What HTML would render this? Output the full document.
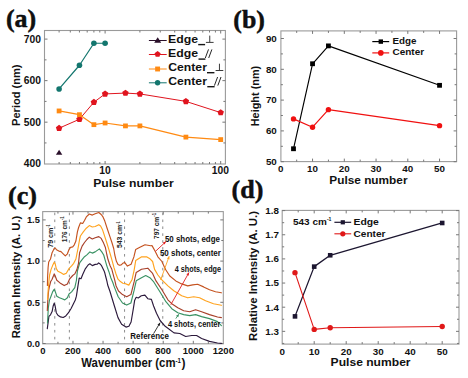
<!DOCTYPE html>
<html><head><meta charset="utf-8"><style>
html,body{margin:0;padding:0;background:#fff;}
svg{display:block;}
</style></head><body>
<svg width="468" height="378" viewBox="0 0 468 378">
<rect width="468" height="378" fill="#fff"/>
<rect x="44.50" y="30.50" width="180.90" height="133.50" fill="none" stroke="#9a9a9a" stroke-width="1.1"/>
<line x1="44.50" y1="39.10" x2="47.50" y2="39.10" stroke="#777" stroke-width="1" />
<line x1="225.40" y1="39.10" x2="222.40" y2="39.10" stroke="#777" stroke-width="1" />
<line x1="44.50" y1="59.87" x2="46.50" y2="59.87" stroke="#777" stroke-width="1" />
<line x1="225.40" y1="59.87" x2="223.40" y2="59.87" stroke="#777" stroke-width="1" />
<line x1="44.50" y1="80.63" x2="47.50" y2="80.63" stroke="#777" stroke-width="1" />
<line x1="225.40" y1="80.63" x2="222.40" y2="80.63" stroke="#777" stroke-width="1" />
<line x1="44.50" y1="101.40" x2="46.50" y2="101.40" stroke="#777" stroke-width="1" />
<line x1="225.40" y1="101.40" x2="223.40" y2="101.40" stroke="#777" stroke-width="1" />
<line x1="44.50" y1="122.16" x2="47.50" y2="122.16" stroke="#777" stroke-width="1" />
<line x1="225.40" y1="122.16" x2="222.40" y2="122.16" stroke="#777" stroke-width="1" />
<line x1="44.50" y1="142.93" x2="46.50" y2="142.93" stroke="#777" stroke-width="1" />
<line x1="225.40" y1="142.93" x2="223.40" y2="142.93" stroke="#777" stroke-width="1" />
<line x1="59.10" y1="164.00" x2="59.10" y2="162.00" stroke="#777" stroke-width="1" />
<line x1="59.10" y1="30.50" x2="59.10" y2="32.50" stroke="#777" stroke-width="1" />
<line x1="70.30" y1="164.00" x2="70.30" y2="162.00" stroke="#777" stroke-width="1" />
<line x1="70.30" y1="30.50" x2="70.30" y2="32.50" stroke="#777" stroke-width="1" />
<line x1="79.45" y1="164.00" x2="79.45" y2="162.00" stroke="#777" stroke-width="1" />
<line x1="79.45" y1="30.50" x2="79.45" y2="32.50" stroke="#777" stroke-width="1" />
<line x1="87.19" y1="164.00" x2="87.19" y2="162.00" stroke="#777" stroke-width="1" />
<line x1="87.19" y1="30.50" x2="87.19" y2="32.50" stroke="#777" stroke-width="1" />
<line x1="93.90" y1="164.00" x2="93.90" y2="162.00" stroke="#777" stroke-width="1" />
<line x1="93.90" y1="30.50" x2="93.90" y2="32.50" stroke="#777" stroke-width="1" />
<line x1="99.81" y1="164.00" x2="99.81" y2="162.00" stroke="#777" stroke-width="1" />
<line x1="99.81" y1="30.50" x2="99.81" y2="32.50" stroke="#777" stroke-width="1" />
<line x1="105.10" y1="164.00" x2="105.10" y2="161.00" stroke="#777" stroke-width="1" />
<line x1="105.10" y1="30.50" x2="105.10" y2="33.50" stroke="#777" stroke-width="1" />
<line x1="139.90" y1="164.00" x2="139.90" y2="162.00" stroke="#777" stroke-width="1" />
<line x1="139.90" y1="30.50" x2="139.90" y2="32.50" stroke="#777" stroke-width="1" />
<line x1="160.26" y1="164.00" x2="160.26" y2="162.00" stroke="#777" stroke-width="1" />
<line x1="160.26" y1="30.50" x2="160.26" y2="32.50" stroke="#777" stroke-width="1" />
<line x1="174.70" y1="164.00" x2="174.70" y2="162.00" stroke="#777" stroke-width="1" />
<line x1="174.70" y1="30.50" x2="174.70" y2="32.50" stroke="#777" stroke-width="1" />
<line x1="185.90" y1="164.00" x2="185.90" y2="162.00" stroke="#777" stroke-width="1" />
<line x1="185.90" y1="30.50" x2="185.90" y2="32.50" stroke="#777" stroke-width="1" />
<line x1="195.05" y1="164.00" x2="195.05" y2="162.00" stroke="#777" stroke-width="1" />
<line x1="195.05" y1="30.50" x2="195.05" y2="32.50" stroke="#777" stroke-width="1" />
<line x1="202.79" y1="164.00" x2="202.79" y2="162.00" stroke="#777" stroke-width="1" />
<line x1="202.79" y1="30.50" x2="202.79" y2="32.50" stroke="#777" stroke-width="1" />
<line x1="209.50" y1="164.00" x2="209.50" y2="162.00" stroke="#777" stroke-width="1" />
<line x1="209.50" y1="30.50" x2="209.50" y2="32.50" stroke="#777" stroke-width="1" />
<line x1="215.41" y1="164.00" x2="215.41" y2="162.00" stroke="#777" stroke-width="1" />
<line x1="215.41" y1="30.50" x2="215.41" y2="32.50" stroke="#777" stroke-width="1" />
<line x1="220.70" y1="164.00" x2="220.70" y2="161.00" stroke="#777" stroke-width="1" />
<line x1="220.70" y1="30.50" x2="220.70" y2="33.50" stroke="#777" stroke-width="1" />
<text x="41.00" y="42.60" font-size="10.3" font-weight="bold" text-anchor="end" fill="#111" font-family='"Liberation Sans", sans-serif' >700</text>
<text x="41.00" y="84.13" font-size="10.3" font-weight="bold" text-anchor="end" fill="#111" font-family='"Liberation Sans", sans-serif' >600</text>
<text x="41.00" y="125.66" font-size="10.3" font-weight="bold" text-anchor="end" fill="#111" font-family='"Liberation Sans", sans-serif' >500</text>
<text x="41.00" y="167.19" font-size="10.3" font-weight="bold" text-anchor="end" fill="#111" font-family='"Liberation Sans", sans-serif' >400</text>
<text x="105.10" y="173.80" font-size="10.3" font-weight="bold" text-anchor="middle" fill="#111" font-family='"Liberation Sans", sans-serif' >10</text>
<text x="220.30" y="173.80" font-size="10.3" font-weight="bold" text-anchor="middle" fill="#111" font-family='"Liberation Sans", sans-serif' >100</text>
<text x="133.40" y="187.00" font-size="11.4" font-weight="bold" text-anchor="middle" fill="#111" font-family='"Liberation Sans", sans-serif' textLength="80.5" lengthAdjust="spacingAndGlyphs" >Pulse number</text>
<text x="19.80" y="95.20" font-size="11.8" font-weight="bold" text-anchor="middle" fill="#111" font-family='"Liberation Sans", sans-serif' textLength="61.5" lengthAdjust="spacingAndGlyphs" transform="rotate(-90 19.80 95.20)" >Period (nm)</text>
<polyline points="59.10,128.18 79.45,119.25 93.90,102.23 105.10,93.92 125.46,93.09 139.90,93.92 185.90,101.40 220.70,112.61" fill="none" stroke="#e0141e" stroke-width="1" stroke-linejoin="round" stroke-linecap="round" />
<polygon points="59.10,124.78 62.33,127.13 61.10,130.93 57.10,130.93 55.86,127.13" fill="#e0141e"/>
<polygon points="79.45,115.85 82.69,118.20 81.45,122.00 77.46,122.00 76.22,118.20" fill="#e0141e"/>
<polygon points="93.90,98.83 97.13,101.17 95.90,104.98 91.90,104.98 90.66,101.17" fill="#e0141e"/>
<polygon points="105.10,90.52 108.33,92.87 107.10,96.67 103.10,96.67 101.87,92.87" fill="#e0141e"/>
<polygon points="125.46,89.69 128.69,92.04 127.45,95.84 123.46,95.84 122.22,92.04" fill="#e0141e"/>
<polygon points="139.90,90.52 143.13,92.87 141.90,96.67 137.90,96.67 136.67,92.87" fill="#e0141e"/>
<polygon points="185.90,98.00 189.13,100.34 187.90,104.15 183.90,104.15 182.67,100.34" fill="#e0141e"/>
<polygon points="220.70,109.21 223.93,111.56 222.70,115.36 218.70,115.36 217.47,111.56" fill="#e0141e"/>
<polyline points="59.10,110.95 79.45,114.68 93.90,124.65 105.10,122.99 125.46,125.90 139.90,125.90 185.90,137.11 220.70,139.60" fill="none" stroke="#ff8a12" stroke-width="1.2" stroke-linejoin="round" stroke-linecap="round" />
<rect x="56.70" y="108.55" width="4.8" height="4.8" fill="#ff8a12"/>
<rect x="77.05" y="112.28" width="4.8" height="4.8" fill="#ff8a12"/>
<rect x="91.50" y="122.25" width="4.8" height="4.8" fill="#ff8a12"/>
<rect x="102.70" y="120.59" width="4.8" height="4.8" fill="#ff8a12"/>
<rect x="123.06" y="123.50" width="4.8" height="4.8" fill="#ff8a12"/>
<rect x="137.50" y="123.50" width="4.8" height="4.8" fill="#ff8a12"/>
<rect x="183.50" y="134.71" width="4.8" height="4.8" fill="#ff8a12"/>
<rect x="218.30" y="137.20" width="4.8" height="4.8" fill="#ff8a12"/>
<polyline points="59.10,88.94 79.45,65.26 93.90,43.25 105.10,43.25" fill="none" stroke="#13766e" stroke-width="1.2" stroke-linejoin="round" stroke-linecap="round" />
<circle cx="59.10" cy="88.94" r="2.8" fill="#13766e"/>
<circle cx="79.45" cy="65.26" r="2.8" fill="#13766e"/>
<circle cx="93.90" cy="43.25" r="2.8" fill="#13766e"/>
<circle cx="105.10" cy="43.25" r="2.8" fill="#13766e"/>
<polygon points="55.90,154.83 62.30,154.83 59.10,149.71" fill="#2a0f2a"/>
<line x1="148.90" y1="40.50" x2="166.70" y2="40.50" stroke="#2a0f2a" stroke-width="1" />
<polygon points="154.20,42.80 161.20,42.80 157.70,37.20" fill="#2a0f2a"/>
<line x1="148.90" y1="54.50" x2="166.70" y2="54.50" stroke="#e0141e" stroke-width="1" />
<polygon points="157.60,51.00 160.64,53.21 159.48,56.79 155.72,56.79 154.56,53.21" fill="#e0141e"/>
<line x1="148.90" y1="69.00" x2="166.70" y2="69.00" stroke="#ff8a12" stroke-width="1" />
<rect x="155.15" y="66.55" width="4.9" height="4.9" fill="#ff8a12"/>
<line x1="148.90" y1="82.80" x2="166.70" y2="82.80" stroke="#13766e" stroke-width="1" />
<circle cx="157.60" cy="82.80" r="2.7" fill="#13766e"/>
<text x="168.10" y="42.90" font-size="10.2" font-weight="bold" text-anchor="start" fill="#111" font-family='"Liberation Sans", sans-serif' textLength="30.0" lengthAdjust="spacingAndGlyphs" >Edge</text>
<rect x="198.20" y="43.90" width="6.90" height="1.4" fill="#151515"/>
<line x1="205.90" y1="42.40" x2="213.60" y2="42.40" stroke="#3a3a3a" stroke-width="1.0" />
<line x1="209.75" y1="35.60" x2="209.75" y2="42.40" stroke="#3a3a3a" stroke-width="1.0" />
<text x="168.10" y="57.40" font-size="10.2" font-weight="bold" text-anchor="start" fill="#111" font-family='"Liberation Sans", sans-serif' textLength="30.0" lengthAdjust="spacingAndGlyphs" >Edge</text>
<rect x="198.50" y="58.40" width="6.90" height="1.4" fill="#151515"/>
<line x1="208.50" y1="49.40" x2="205.30" y2="58.00" stroke="#1a1a1a" stroke-width="0.95" />
<line x1="211.90" y1="49.40" x2="208.70" y2="58.00" stroke="#1a1a1a" stroke-width="0.95" />
<text x="168.30" y="71.00" font-size="10.2" font-weight="bold" text-anchor="start" fill="#111" font-family='"Liberation Sans", sans-serif' textLength="38.6" lengthAdjust="spacingAndGlyphs" >Center</text>
<rect x="207.00" y="72.00" width="7.40" height="1.4" fill="#151515"/>
<line x1="215.60" y1="70.50" x2="223.30" y2="70.50" stroke="#3a3a3a" stroke-width="1.0" />
<line x1="219.45" y1="63.70" x2="219.45" y2="70.50" stroke="#3a3a3a" stroke-width="1.0" />
<text x="168.30" y="85.00" font-size="10.2" font-weight="bold" text-anchor="start" fill="#111" font-family='"Liberation Sans", sans-serif' textLength="38.6" lengthAdjust="spacingAndGlyphs" >Center</text>
<rect x="207.30" y="86.00" width="7.30" height="1.4" fill="#151515"/>
<line x1="217.60" y1="77.00" x2="214.40" y2="85.60" stroke="#1a1a1a" stroke-width="0.95" />
<line x1="221.00" y1="77.00" x2="217.80" y2="85.60" stroke="#1a1a1a" stroke-width="0.95" />
<rect x="280.90" y="30.90" width="175.70" height="130.70" fill="none" stroke="#9a9a9a" stroke-width="1.1"/>
<line x1="280.90" y1="161.70" x2="283.90" y2="161.70" stroke="#777" stroke-width="1" />
<line x1="456.60" y1="161.70" x2="453.60" y2="161.70" stroke="#777" stroke-width="1" />
<line x1="280.90" y1="146.30" x2="282.90" y2="146.30" stroke="#777" stroke-width="1" />
<line x1="456.60" y1="146.30" x2="454.60" y2="146.30" stroke="#777" stroke-width="1" />
<line x1="280.90" y1="130.90" x2="283.90" y2="130.90" stroke="#777" stroke-width="1" />
<line x1="456.60" y1="130.90" x2="453.60" y2="130.90" stroke="#777" stroke-width="1" />
<line x1="280.90" y1="115.50" x2="282.90" y2="115.50" stroke="#777" stroke-width="1" />
<line x1="456.60" y1="115.50" x2="454.60" y2="115.50" stroke="#777" stroke-width="1" />
<line x1="280.90" y1="100.10" x2="283.90" y2="100.10" stroke="#777" stroke-width="1" />
<line x1="456.60" y1="100.10" x2="453.60" y2="100.10" stroke="#777" stroke-width="1" />
<line x1="280.90" y1="84.70" x2="282.90" y2="84.70" stroke="#777" stroke-width="1" />
<line x1="456.60" y1="84.70" x2="454.60" y2="84.70" stroke="#777" stroke-width="1" />
<line x1="280.90" y1="69.30" x2="283.90" y2="69.30" stroke="#777" stroke-width="1" />
<line x1="456.60" y1="69.30" x2="453.60" y2="69.30" stroke="#777" stroke-width="1" />
<line x1="280.90" y1="53.90" x2="282.90" y2="53.90" stroke="#777" stroke-width="1" />
<line x1="456.60" y1="53.90" x2="454.60" y2="53.90" stroke="#777" stroke-width="1" />
<line x1="280.90" y1="38.50" x2="283.90" y2="38.50" stroke="#777" stroke-width="1" />
<line x1="456.60" y1="38.50" x2="453.60" y2="38.50" stroke="#777" stroke-width="1" />
<line x1="296.68" y1="161.60" x2="296.68" y2="159.60" stroke="#777" stroke-width="1" />
<line x1="296.68" y1="30.90" x2="296.68" y2="32.90" stroke="#777" stroke-width="1" />
<line x1="312.55" y1="161.60" x2="312.55" y2="158.60" stroke="#777" stroke-width="1" />
<line x1="312.55" y1="30.90" x2="312.55" y2="33.90" stroke="#777" stroke-width="1" />
<line x1="328.43" y1="161.60" x2="328.43" y2="159.60" stroke="#777" stroke-width="1" />
<line x1="328.43" y1="30.90" x2="328.43" y2="32.90" stroke="#777" stroke-width="1" />
<line x1="344.30" y1="161.60" x2="344.30" y2="158.60" stroke="#777" stroke-width="1" />
<line x1="344.30" y1="30.90" x2="344.30" y2="33.90" stroke="#777" stroke-width="1" />
<line x1="360.18" y1="161.60" x2="360.18" y2="159.60" stroke="#777" stroke-width="1" />
<line x1="360.18" y1="30.90" x2="360.18" y2="32.90" stroke="#777" stroke-width="1" />
<line x1="376.05" y1="161.60" x2="376.05" y2="158.60" stroke="#777" stroke-width="1" />
<line x1="376.05" y1="30.90" x2="376.05" y2="33.90" stroke="#777" stroke-width="1" />
<line x1="391.93" y1="161.60" x2="391.93" y2="159.60" stroke="#777" stroke-width="1" />
<line x1="391.93" y1="30.90" x2="391.93" y2="32.90" stroke="#777" stroke-width="1" />
<line x1="407.80" y1="161.60" x2="407.80" y2="158.60" stroke="#777" stroke-width="1" />
<line x1="407.80" y1="30.90" x2="407.80" y2="33.90" stroke="#777" stroke-width="1" />
<line x1="423.68" y1="161.60" x2="423.68" y2="159.60" stroke="#777" stroke-width="1" />
<line x1="423.68" y1="30.90" x2="423.68" y2="32.90" stroke="#777" stroke-width="1" />
<line x1="439.55" y1="161.60" x2="439.55" y2="158.60" stroke="#777" stroke-width="1" />
<line x1="439.55" y1="30.90" x2="439.55" y2="33.90" stroke="#777" stroke-width="1" />
<text x="276.80" y="41.70" font-size="9.8" font-weight="bold" text-anchor="end" fill="#111" font-family='"Liberation Sans", sans-serif' >90</text>
<text x="276.80" y="72.50" font-size="9.8" font-weight="bold" text-anchor="end" fill="#111" font-family='"Liberation Sans", sans-serif' >80</text>
<text x="276.80" y="103.30" font-size="9.8" font-weight="bold" text-anchor="end" fill="#111" font-family='"Liberation Sans", sans-serif' >70</text>
<text x="276.80" y="134.10" font-size="9.8" font-weight="bold" text-anchor="end" fill="#111" font-family='"Liberation Sans", sans-serif' >60</text>
<text x="276.80" y="164.90" font-size="9.8" font-weight="bold" text-anchor="end" fill="#111" font-family='"Liberation Sans", sans-serif' >50</text>
<text x="280.80" y="171.80" font-size="9.8" font-weight="bold" text-anchor="middle" fill="#111" font-family='"Liberation Sans", sans-serif' >0</text>
<text x="312.55" y="171.80" font-size="9.8" font-weight="bold" text-anchor="middle" fill="#111" font-family='"Liberation Sans", sans-serif' >10</text>
<text x="344.30" y="171.80" font-size="9.8" font-weight="bold" text-anchor="middle" fill="#111" font-family='"Liberation Sans", sans-serif' >20</text>
<text x="376.05" y="171.80" font-size="9.8" font-weight="bold" text-anchor="middle" fill="#111" font-family='"Liberation Sans", sans-serif' >30</text>
<text x="407.80" y="171.80" font-size="9.8" font-weight="bold" text-anchor="middle" fill="#111" font-family='"Liberation Sans", sans-serif' >40</text>
<text x="439.55" y="171.80" font-size="9.8" font-weight="bold" text-anchor="middle" fill="#111" font-family='"Liberation Sans", sans-serif' >50</text>
<text x="368.40" y="183.50" font-size="11.2" font-weight="bold" text-anchor="middle" fill="#111" font-family='"Liberation Sans", sans-serif' textLength="78.2" lengthAdjust="spacingAndGlyphs" >Pulse number</text>
<text x="258.70" y="96.00" font-size="11.8" font-weight="bold" text-anchor="middle" fill="#111" font-family='"Liberation Sans", sans-serif' textLength="60.5" lengthAdjust="spacingAndGlyphs" transform="rotate(-90 258.70 96.00)" >Height (nm)</text>
<polyline points="293.50,148.76 312.55,63.76 328.43,45.89 439.55,85.32" fill="none" stroke="#000" stroke-width="1.15" stroke-linejoin="round" stroke-linecap="round" />
<rect x="291.10" y="146.36" width="4.8" height="4.8" fill="#000"/>
<rect x="310.15" y="61.36" width="4.8" height="4.8" fill="#000"/>
<rect x="326.03" y="43.49" width="4.8" height="4.8" fill="#000"/>
<rect x="437.15" y="82.92" width="4.8" height="4.8" fill="#000"/>
<polyline points="293.50,118.89 312.55,127.20 328.43,109.65 439.55,125.66" fill="none" stroke="#f01010" stroke-width="1.2" stroke-linejoin="round" stroke-linecap="round" />
<circle cx="293.50" cy="118.89" r="2.7" fill="#f01010"/>
<circle cx="312.55" cy="127.20" r="2.7" fill="#f01010"/>
<circle cx="328.43" cy="109.65" r="2.7" fill="#f01010"/>
<circle cx="439.55" cy="125.66" r="2.7" fill="#f01010"/>
<line x1="372.30" y1="41.60" x2="389.20" y2="41.60" stroke="#000" stroke-width="1.2" />
<rect x="378.60" y="39.40" width="4.4" height="4.4" fill="#000"/>
<line x1="372.30" y1="52.90" x2="389.20" y2="52.90" stroke="#f01010" stroke-width="1.2" />
<circle cx="380.80" cy="52.90" r="2.8" fill="#f01010"/>
<text x="392.40" y="43.80" font-size="9.6" font-weight="bold" text-anchor="start" fill="#111" font-family='"Liberation Sans", sans-serif' textLength="24.0" lengthAdjust="spacingAndGlyphs" >Edge</text>
<text x="392.50" y="55.30" font-size="9.6" font-weight="bold" text-anchor="start" fill="#111" font-family='"Liberation Sans", sans-serif' textLength="31.6" lengthAdjust="spacingAndGlyphs" >Center</text>
<rect x="282.20" y="210.40" width="176.80" height="133.70" fill="none" stroke="#9a9a9a" stroke-width="1.1"/>
<line x1="282.20" y1="343.43" x2="284.20" y2="343.43" stroke="#777" stroke-width="1" />
<line x1="459.00" y1="343.43" x2="457.00" y2="343.43" stroke="#777" stroke-width="1" />
<line x1="282.20" y1="331.35" x2="285.20" y2="331.35" stroke="#777" stroke-width="1" />
<line x1="459.00" y1="331.35" x2="456.00" y2="331.35" stroke="#777" stroke-width="1" />
<line x1="282.20" y1="319.27" x2="284.20" y2="319.27" stroke="#777" stroke-width="1" />
<line x1="459.00" y1="319.27" x2="457.00" y2="319.27" stroke="#777" stroke-width="1" />
<line x1="282.20" y1="307.20" x2="285.20" y2="307.20" stroke="#777" stroke-width="1" />
<line x1="459.00" y1="307.20" x2="456.00" y2="307.20" stroke="#777" stroke-width="1" />
<line x1="282.20" y1="295.12" x2="284.20" y2="295.12" stroke="#777" stroke-width="1" />
<line x1="459.00" y1="295.12" x2="457.00" y2="295.12" stroke="#777" stroke-width="1" />
<line x1="282.20" y1="283.05" x2="285.20" y2="283.05" stroke="#777" stroke-width="1" />
<line x1="459.00" y1="283.05" x2="456.00" y2="283.05" stroke="#777" stroke-width="1" />
<line x1="282.20" y1="270.98" x2="284.20" y2="270.98" stroke="#777" stroke-width="1" />
<line x1="459.00" y1="270.98" x2="457.00" y2="270.98" stroke="#777" stroke-width="1" />
<line x1="282.20" y1="258.90" x2="285.20" y2="258.90" stroke="#777" stroke-width="1" />
<line x1="459.00" y1="258.90" x2="456.00" y2="258.90" stroke="#777" stroke-width="1" />
<line x1="282.20" y1="246.83" x2="284.20" y2="246.83" stroke="#777" stroke-width="1" />
<line x1="459.00" y1="246.83" x2="457.00" y2="246.83" stroke="#777" stroke-width="1" />
<line x1="282.20" y1="234.75" x2="285.20" y2="234.75" stroke="#777" stroke-width="1" />
<line x1="459.00" y1="234.75" x2="456.00" y2="234.75" stroke="#777" stroke-width="1" />
<line x1="282.20" y1="222.68" x2="284.20" y2="222.68" stroke="#777" stroke-width="1" />
<line x1="459.00" y1="222.68" x2="457.00" y2="222.68" stroke="#777" stroke-width="1" />
<line x1="282.20" y1="210.60" x2="285.20" y2="210.60" stroke="#777" stroke-width="1" />
<line x1="459.00" y1="210.60" x2="456.00" y2="210.60" stroke="#777" stroke-width="1" />
<line x1="298.20" y1="344.10" x2="298.20" y2="342.10" stroke="#777" stroke-width="1" />
<line x1="298.20" y1="210.40" x2="298.20" y2="212.40" stroke="#777" stroke-width="1" />
<line x1="314.20" y1="344.10" x2="314.20" y2="341.10" stroke="#777" stroke-width="1" />
<line x1="314.20" y1="210.40" x2="314.20" y2="213.40" stroke="#777" stroke-width="1" />
<line x1="330.20" y1="344.10" x2="330.20" y2="342.10" stroke="#777" stroke-width="1" />
<line x1="330.20" y1="210.40" x2="330.20" y2="212.40" stroke="#777" stroke-width="1" />
<line x1="346.20" y1="344.10" x2="346.20" y2="341.10" stroke="#777" stroke-width="1" />
<line x1="346.20" y1="210.40" x2="346.20" y2="213.40" stroke="#777" stroke-width="1" />
<line x1="362.20" y1="344.10" x2="362.20" y2="342.10" stroke="#777" stroke-width="1" />
<line x1="362.20" y1="210.40" x2="362.20" y2="212.40" stroke="#777" stroke-width="1" />
<line x1="378.20" y1="344.10" x2="378.20" y2="341.10" stroke="#777" stroke-width="1" />
<line x1="378.20" y1="210.40" x2="378.20" y2="213.40" stroke="#777" stroke-width="1" />
<line x1="394.20" y1="344.10" x2="394.20" y2="342.10" stroke="#777" stroke-width="1" />
<line x1="394.20" y1="210.40" x2="394.20" y2="212.40" stroke="#777" stroke-width="1" />
<line x1="410.20" y1="344.10" x2="410.20" y2="341.10" stroke="#777" stroke-width="1" />
<line x1="410.20" y1="210.40" x2="410.20" y2="213.40" stroke="#777" stroke-width="1" />
<line x1="426.20" y1="344.10" x2="426.20" y2="342.10" stroke="#777" stroke-width="1" />
<line x1="426.20" y1="210.40" x2="426.20" y2="212.40" stroke="#777" stroke-width="1" />
<line x1="442.20" y1="344.10" x2="442.20" y2="341.10" stroke="#777" stroke-width="1" />
<line x1="442.20" y1="210.40" x2="442.20" y2="213.40" stroke="#777" stroke-width="1" />
<text x="278.90" y="213.90" font-size="9.8" font-weight="bold" text-anchor="end" fill="#111" font-family='"Liberation Sans", sans-serif' >1.8</text>
<text x="278.90" y="238.05" font-size="9.8" font-weight="bold" text-anchor="end" fill="#111" font-family='"Liberation Sans", sans-serif' >1.7</text>
<text x="278.90" y="262.20" font-size="9.8" font-weight="bold" text-anchor="end" fill="#111" font-family='"Liberation Sans", sans-serif' >1.6</text>
<text x="278.90" y="286.35" font-size="9.8" font-weight="bold" text-anchor="end" fill="#111" font-family='"Liberation Sans", sans-serif' >1.5</text>
<text x="278.90" y="310.50" font-size="9.8" font-weight="bold" text-anchor="end" fill="#111" font-family='"Liberation Sans", sans-serif' >1.4</text>
<text x="278.90" y="334.65" font-size="9.8" font-weight="bold" text-anchor="end" fill="#111" font-family='"Liberation Sans", sans-serif' >1.3</text>
<text x="282.20" y="354.80" font-size="9.8" font-weight="bold" text-anchor="middle" fill="#111" font-family='"Liberation Sans", sans-serif' >0</text>
<text x="314.20" y="354.80" font-size="9.8" font-weight="bold" text-anchor="middle" fill="#111" font-family='"Liberation Sans", sans-serif' >10</text>
<text x="346.20" y="354.80" font-size="9.8" font-weight="bold" text-anchor="middle" fill="#111" font-family='"Liberation Sans", sans-serif' >20</text>
<text x="378.20" y="354.80" font-size="9.8" font-weight="bold" text-anchor="middle" fill="#111" font-family='"Liberation Sans", sans-serif' >30</text>
<text x="410.20" y="354.80" font-size="9.8" font-weight="bold" text-anchor="middle" fill="#111" font-family='"Liberation Sans", sans-serif' >40</text>
<text x="442.20" y="354.80" font-size="9.8" font-weight="bold" text-anchor="middle" fill="#111" font-family='"Liberation Sans", sans-serif' >50</text>
<text x="370.60" y="365.90" font-size="11.3" font-weight="bold" text-anchor="middle" fill="#111" font-family='"Liberation Sans", sans-serif' textLength="80" lengthAdjust="spacingAndGlyphs" >Pulse number</text>
<text x="256.70" y="276.00" font-size="11.6" font-weight="bold" text-anchor="middle" fill="#111" font-family='"Liberation Sans", sans-serif' textLength="130" lengthAdjust="spacingAndGlyphs" transform="rotate(-90 256.70 276.00)" >Relative Intensity (A. U.)</text>
<polyline points="295.00,316.38 314.20,266.63 330.20,255.28 442.20,222.99" fill="none" stroke="#1c1630" stroke-width="1.3" stroke-linejoin="round" stroke-linecap="round" />
<rect x="292.70" y="314.08" width="4.6" height="4.6" fill="#1c1630"/>
<rect x="311.90" y="264.33" width="4.6" height="4.6" fill="#1c1630"/>
<rect x="327.90" y="252.98" width="4.6" height="4.6" fill="#1c1630"/>
<rect x="439.90" y="220.69" width="4.6" height="4.6" fill="#1c1630"/>
<polyline points="295.00,272.67 314.20,329.42 330.20,327.73 442.20,326.52" fill="none" stroke="#e01818" stroke-width="1.1" stroke-linejoin="round" stroke-linecap="round" />
<circle cx="295.00" cy="272.67" r="2.7" fill="#e01818"/>
<circle cx="314.20" cy="329.42" r="2.7" fill="#e01818"/>
<circle cx="330.20" cy="327.73" r="2.7" fill="#e01818"/>
<circle cx="442.20" cy="326.52" r="2.7" fill="#e01818"/>
<line x1="334.40" y1="222.30" x2="351.20" y2="222.30" stroke="#1c1630" stroke-width="1.2" />
<rect x="340.70" y="220.20" width="4.2" height="4.2" fill="#1c1630"/>
<line x1="334.40" y1="233.80" x2="351.20" y2="233.80" stroke="#e01818" stroke-width="1.1" />
<circle cx="342.80" cy="233.80" r="2.6" fill="#e01818"/>
<text x="293.00" y="225.20" font-size="8.2" font-weight="bold" text-anchor="start" fill="#111" font-family='"Liberation Sans", sans-serif' textLength="33.8" lengthAdjust="spacingAndGlyphs" >543 cm</text>
<text x="326.90" y="221.40" font-size="5.2" font-weight="bold" text-anchor="start" fill="#111" font-family='"Liberation Sans", sans-serif' textLength="4.6" lengthAdjust="spacingAndGlyphs" >-1</text>
<text x="353.50" y="224.90" font-size="9.3" font-weight="bold" text-anchor="start" fill="#111" font-family='"Liberation Sans", sans-serif' textLength="25.4" lengthAdjust="spacingAndGlyphs" >Edge</text>
<text x="353.60" y="237.10" font-size="9.3" font-weight="bold" text-anchor="start" fill="#111" font-family='"Liberation Sans", sans-serif' textLength="31.9" lengthAdjust="spacingAndGlyphs" >Center</text>
<rect x="42.70" y="211.60" width="180.60" height="132.20" fill="none" stroke="#9a9a9a" stroke-width="1.1"/>
<line x1="42.70" y1="343.50" x2="45.70" y2="343.50" stroke="#777" stroke-width="1" />
<line x1="223.30" y1="343.50" x2="220.30" y2="343.50" stroke="#777" stroke-width="1" />
<line x1="42.70" y1="322.90" x2="44.70" y2="322.90" stroke="#777" stroke-width="1" />
<line x1="223.30" y1="322.90" x2="221.30" y2="322.90" stroke="#777" stroke-width="1" />
<line x1="42.70" y1="302.30" x2="45.70" y2="302.30" stroke="#777" stroke-width="1" />
<line x1="223.30" y1="302.30" x2="220.30" y2="302.30" stroke="#777" stroke-width="1" />
<line x1="42.70" y1="281.70" x2="44.70" y2="281.70" stroke="#777" stroke-width="1" />
<line x1="223.30" y1="281.70" x2="221.30" y2="281.70" stroke="#777" stroke-width="1" />
<line x1="42.70" y1="261.10" x2="45.70" y2="261.10" stroke="#777" stroke-width="1" />
<line x1="223.30" y1="261.10" x2="220.30" y2="261.10" stroke="#777" stroke-width="1" />
<line x1="42.70" y1="240.50" x2="44.70" y2="240.50" stroke="#777" stroke-width="1" />
<line x1="223.30" y1="240.50" x2="221.30" y2="240.50" stroke="#777" stroke-width="1" />
<line x1="42.70" y1="219.90" x2="45.70" y2="219.90" stroke="#777" stroke-width="1" />
<line x1="223.30" y1="219.90" x2="220.30" y2="219.90" stroke="#777" stroke-width="1" />
<line x1="57.94" y1="343.80" x2="57.94" y2="341.80" stroke="#777" stroke-width="1" />
<line x1="57.94" y1="211.60" x2="57.94" y2="213.60" stroke="#777" stroke-width="1" />
<line x1="72.98" y1="343.80" x2="72.98" y2="340.80" stroke="#777" stroke-width="1" />
<line x1="72.98" y1="211.60" x2="72.98" y2="214.60" stroke="#777" stroke-width="1" />
<line x1="88.02" y1="343.80" x2="88.02" y2="341.80" stroke="#777" stroke-width="1" />
<line x1="88.02" y1="211.60" x2="88.02" y2="213.60" stroke="#777" stroke-width="1" />
<line x1="103.06" y1="343.80" x2="103.06" y2="340.80" stroke="#777" stroke-width="1" />
<line x1="103.06" y1="211.60" x2="103.06" y2="214.60" stroke="#777" stroke-width="1" />
<line x1="118.10" y1="343.80" x2="118.10" y2="341.80" stroke="#777" stroke-width="1" />
<line x1="118.10" y1="211.60" x2="118.10" y2="213.60" stroke="#777" stroke-width="1" />
<line x1="133.14" y1="343.80" x2="133.14" y2="340.80" stroke="#777" stroke-width="1" />
<line x1="133.14" y1="211.60" x2="133.14" y2="214.60" stroke="#777" stroke-width="1" />
<line x1="148.18" y1="343.80" x2="148.18" y2="341.80" stroke="#777" stroke-width="1" />
<line x1="148.18" y1="211.60" x2="148.18" y2="213.60" stroke="#777" stroke-width="1" />
<line x1="163.22" y1="343.80" x2="163.22" y2="340.80" stroke="#777" stroke-width="1" />
<line x1="163.22" y1="211.60" x2="163.22" y2="214.60" stroke="#777" stroke-width="1" />
<line x1="178.26" y1="343.80" x2="178.26" y2="341.80" stroke="#777" stroke-width="1" />
<line x1="178.26" y1="211.60" x2="178.26" y2="213.60" stroke="#777" stroke-width="1" />
<line x1="193.30" y1="343.80" x2="193.30" y2="340.80" stroke="#777" stroke-width="1" />
<line x1="193.30" y1="211.60" x2="193.30" y2="214.60" stroke="#777" stroke-width="1" />
<line x1="208.34" y1="343.80" x2="208.34" y2="341.80" stroke="#777" stroke-width="1" />
<line x1="208.34" y1="211.60" x2="208.34" y2="213.60" stroke="#777" stroke-width="1" />
<text x="39.90" y="223.10" font-size="9.3" font-weight="bold" text-anchor="end" fill="#111" font-family='"Liberation Sans", sans-serif' >1.5</text>
<text x="39.90" y="264.30" font-size="9.3" font-weight="bold" text-anchor="end" fill="#111" font-family='"Liberation Sans", sans-serif' >1.0</text>
<text x="39.90" y="305.50" font-size="9.3" font-weight="bold" text-anchor="end" fill="#111" font-family='"Liberation Sans", sans-serif' >0.5</text>
<text x="39.90" y="346.70" font-size="9.3" font-weight="bold" text-anchor="end" fill="#111" font-family='"Liberation Sans", sans-serif' >0.0</text>
<text x="42.90" y="353.60" font-size="9.5" font-weight="bold" text-anchor="middle" fill="#111" font-family='"Liberation Sans", sans-serif' >0</text>
<text x="72.98" y="353.60" font-size="9.5" font-weight="bold" text-anchor="middle" fill="#111" font-family='"Liberation Sans", sans-serif' >200</text>
<text x="103.06" y="353.60" font-size="9.5" font-weight="bold" text-anchor="middle" fill="#111" font-family='"Liberation Sans", sans-serif' >400</text>
<text x="133.14" y="353.60" font-size="9.5" font-weight="bold" text-anchor="middle" fill="#111" font-family='"Liberation Sans", sans-serif' >600</text>
<text x="163.22" y="353.60" font-size="9.5" font-weight="bold" text-anchor="middle" fill="#111" font-family='"Liberation Sans", sans-serif' >800</text>
<text x="193.30" y="353.60" font-size="9.5" font-weight="bold" text-anchor="middle" fill="#111" font-family='"Liberation Sans", sans-serif' >1000</text>
<text x="223.38" y="353.60" font-size="9.5" font-weight="bold" text-anchor="middle" fill="#111" font-family='"Liberation Sans", sans-serif' >1200</text>
<text x="81.30" y="366.50" font-size="12" font-weight="bold" text-anchor="start" fill="#111" font-family='"Liberation Sans", sans-serif' textLength="94.2" lengthAdjust="spacingAndGlyphs" >Wavenumber (cm</text>
<text x="175.60" y="363.40" font-size="6.5" font-weight="bold" text-anchor="start" fill="#111" font-family='"Liberation Sans", sans-serif' textLength="5.4" lengthAdjust="spacingAndGlyphs" >-1</text>
<text x="181.50" y="366.50" font-size="12" font-weight="bold" text-anchor="start" fill="#111" font-family='"Liberation Sans", sans-serif' >)</text>
<text x="20.40" y="277.00" font-size="11.2" font-weight="bold" text-anchor="middle" fill="#111" font-family='"Liberation Sans", sans-serif' textLength="122.5" lengthAdjust="spacingAndGlyphs" transform="rotate(-90 20.40 277.00)" >Raman Intensity (A. U.)</text>
<line x1="54.78" y1="212.60" x2="54.78" y2="343.80" stroke="#8c8c8c" stroke-width="1" stroke-dasharray="2.6,4.3"/>
<line x1="69.37" y1="212.60" x2="69.37" y2="343.80" stroke="#8c8c8c" stroke-width="1" stroke-dasharray="2.6,4.3"/>
<line x1="124.57" y1="212.60" x2="124.57" y2="343.80" stroke="#8c8c8c" stroke-width="1" stroke-dasharray="2.6,4.3"/>
<line x1="162.77" y1="212.60" x2="162.77" y2="343.80" stroke="#8c8c8c" stroke-width="1" stroke-dasharray="2.6,4.3"/>
<text x="53.00" y="247.80" font-size="7.4" font-weight="bold" text-anchor="start" fill="#222" font-family='"Liberation Sans", sans-serif' textLength="20.200000000000003" lengthAdjust="spacingAndGlyphs" transform="rotate(-90 53.00 247.80)" >79 cm</text>
<text x="50.10" y="227.50" font-size="4.6" font-weight="bold" text-anchor="start" fill="#222" font-family='"Liberation Sans", sans-serif' textLength="2.8000000000000114" lengthAdjust="spacingAndGlyphs" transform="rotate(-90 50.10 227.50)" >-1</text>
<text x="66.70" y="242.20" font-size="7.4" font-weight="bold" text-anchor="start" fill="#222" font-family='"Liberation Sans", sans-serif' textLength="22.0" lengthAdjust="spacingAndGlyphs" transform="rotate(-90 66.70 242.20)" >176 cm</text>
<text x="63.80" y="220.10" font-size="4.6" font-weight="bold" text-anchor="start" fill="#222" font-family='"Liberation Sans", sans-serif' textLength="3.9000000000000057" lengthAdjust="spacingAndGlyphs" transform="rotate(-90 63.80 220.10)" >-1</text>
<text x="122.50" y="248.10" font-size="7.4" font-weight="bold" text-anchor="start" fill="#222" font-family='"Liberation Sans", sans-serif' textLength="23.200000000000003" lengthAdjust="spacingAndGlyphs" transform="rotate(-90 122.50 248.10)" >543 cm</text>
<text x="119.60" y="224.80" font-size="4.6" font-weight="bold" text-anchor="start" fill="#222" font-family='"Liberation Sans", sans-serif' textLength="3.299999999999983" lengthAdjust="spacingAndGlyphs" transform="rotate(-90 119.60 224.80)" >-1</text>
<text x="158.70" y="239.00" font-size="7.4" font-weight="bold" text-anchor="start" fill="#222" font-family='"Liberation Sans", sans-serif' textLength="22.200000000000003" lengthAdjust="spacingAndGlyphs" transform="rotate(-90 158.70 239.00)" >797 cm</text>
<text x="155.80" y="216.70" font-size="4.6" font-weight="bold" text-anchor="start" fill="#222" font-family='"Liberation Sans", sans-serif' textLength="3.8999999999999773" lengthAdjust="spacingAndGlyphs" transform="rotate(-90 155.80 216.70)" >-1</text>
<polyline points="47.30,328.60 48.30,321.20 48.90,316.40 50.50,314.80 52.10,311.60 53.10,306.30 54.20,303.20 55.20,306.30 56.30,312.70 57.90,315.30 60.50,316.90 63.20,317.50 65.80,315.90 68.50,312.70 71.10,308.50 73.70,303.20 75.30,300.00 76.40,296.20 78.00,285.60 79.20,278.10 81.00,278.70 82.70,274.50 85.10,269.20 88.10,265.00 89.90,263.80 92.30,265.60 95.20,264.40 97.40,264.10 98.60,262.90 99.80,263.70 101.30,265.30 102.90,268.50 104.10,270.90 104.90,273.30 106.10,278.00 106.90,281.20 107.70,285.00 110.00,291.50 114.40,306.00 118.00,317.60 121.60,324.20 126.00,327.10 128.90,326.30 131.10,322.00 133.30,308.90 134.70,300.20 136.20,297.30 138.30,298.00 141.30,295.80 144.90,295.10 147.80,298.70 151.40,299.40 153.60,306.00 156.50,313.30 160.10,320.50 165.20,326.30 174.00,332.90 179.80,333.50 185.70,336.50 191.70,335.50 196.60,335.50 201.60,338.50 209.50,341.40 217.50,343.00 221.40,343.40" fill="none" stroke="#2c1a3c" stroke-width="1.15" stroke-linejoin="round" stroke-linecap="round" />
<polyline points="47.50,323.00 48.30,308.00 49.40,300.40 51.00,296.20 52.60,291.90 54.20,289.30 55.20,291.40 56.80,296.20 59.50,297.80 62.10,298.80 64.80,299.90 67.40,297.80 69.00,294.00 71.60,291.90 74.80,287.70 76.40,280.50 77.40,271.00 79.80,262.60 82.10,259.60 84.50,256.70 86.90,254.90 89.90,251.90 92.30,253.10 95.20,251.90 99.40,248.90 101.80,251.90 103.70,255.00 105.30,260.60 106.90,266.10 108.90,271.70 110.90,278.00 112.90,282.80 114.00,286.10 118.20,296.70 122.50,303.00 126.70,305.10 130.90,303.00 134.10,290.40 136.20,280.80 141.50,277.70 145.70,275.60 149.90,277.70 153.30,281.30 159.90,291.80 165.90,301.70 171.80,308.70 177.80,312.70 183.70,314.60 189.70,315.60 195.60,314.60 201.60,316.60 209.50,318.60 217.50,321.60 221.40,325.60" fill="none" stroke="#3a9264" stroke-width="1.15" stroke-linejoin="round" stroke-linecap="round" />
<polyline points="47.30,310.50 47.80,300.00 48.60,291.00 49.30,287.00 50.70,281.50 52.10,279.20 53.60,275.50 54.20,273.90 55.20,276.00 56.80,280.30 60.00,282.90 64.20,285.60 67.40,284.00 69.50,279.20 72.70,275.50 74.80,273.90 76.90,269.60 78.50,263.30 79.60,252.70 82.10,246.10 84.50,242.50 86.90,239.50 89.30,237.20 92.30,239.00 95.20,237.80 98.80,236.60 101.20,238.40 103.60,243.10 105.40,247.50 106.90,255.00 108.10,259.80 110.10,265.70 111.70,268.90 113.30,274.80 114.80,280.40 116.10,286.00 118.50,291.00 122.50,294.60 126.70,296.70 130.90,294.60 134.10,281.90 136.20,272.40 141.50,269.20 147.80,268.20 150.00,270.70 152.60,273.40 156.00,280.90 161.90,289.80 167.90,299.80 171.80,303.70 177.80,307.70 183.70,310.70 189.70,311.70 195.60,309.70 201.60,311.70 209.50,314.60 217.50,317.00 221.40,317.60" fill="none" stroke="#a8402a" stroke-width="1.15" stroke-linejoin="round" stroke-linecap="round" />
<polyline points="47.60,299.50 48.10,291.00 48.70,284.00 49.60,275.00 51.00,269.60 52.60,265.60 54.20,262.20 55.20,263.80 56.30,268.60 57.90,271.20 61.00,272.80 63.70,274.40 66.30,273.30 69.00,268.60 71.60,265.90 73.70,263.30 75.90,259.00 78.00,248.50 79.50,240.00 80.40,236.00 83.30,231.80 86.30,228.20 89.30,225.60 92.30,227.00 95.20,226.50 98.80,224.70 100.60,225.90 102.40,229.40 104.80,236.60 107.10,243.70 108.90,249.70 110.50,255.00 112.10,260.60 114.00,267.70 116.00,274.00 118.00,279.20 120.40,281.60 122.80,283.20 125.00,283.50 128.80,285.10 132.00,279.80 134.10,270.30 135.70,260.60 141.30,256.90 146.90,256.90 150.00,258.80 152.60,261.50 154.60,269.40 157.90,275.00 161.90,279.90 167.90,285.90 173.80,290.80 181.70,295.80 187.70,297.80 193.70,296.80 199.60,297.80 205.60,300.80 213.50,303.70 221.40,305.30" fill="none" stroke="#ffa31f" stroke-width="1.15" stroke-linejoin="round" stroke-linecap="round" />
<polyline points="47.40,285.50 47.60,277.00 48.10,267.50 48.70,262.00 50.50,259.00 52.10,252.70 54.20,248.50 55.20,248.00 56.80,250.00 58.90,251.10 61.00,251.60 63.20,253.80 65.30,255.90 67.40,253.80 69.00,249.50 70.60,247.40 72.70,246.90 74.30,244.80 75.90,241.00 77.40,231.80 78.60,227.50 80.40,222.90 82.70,223.50 84.50,220.50 86.30,216.90 89.30,214.00 92.30,215.10 95.20,213.70 98.80,212.50 101.20,214.50 103.00,216.90 104.80,221.10 107.10,228.20 109.50,235.40 111.90,242.50 113.70,248.50 114.80,255.00 116.40,261.30 118.00,264.50 119.60,265.30 121.20,264.90 122.80,263.30 124.60,262.40 127.40,266.10 131.10,264.30 133.90,256.90 135.70,249.40 139.40,247.60 145.00,244.80 150.60,245.70 152.00,245.60 155.30,251.50 157.90,256.80 161.90,261.50 164.60,267.40 165.90,270.00 169.80,276.00 175.80,280.90 181.70,283.90 187.70,285.90 192.70,284.90 197.60,284.30 203.60,286.90 209.50,289.80 215.50,291.80 221.40,292.80" fill="none" stroke="#c4521f" stroke-width="1.15" stroke-linejoin="round" stroke-linecap="round" />
<line x1="155.30" y1="251.50" x2="165.90" y2="241.60" stroke="#e02020" stroke-width="0.9" />
<polygon points="165.90,241.60 164.74,244.58 162.84,242.55" fill="#e02020"/>
<line x1="160.60" y1="280.00" x2="169.20" y2="256.20" stroke="#ffa31f" stroke-width="0.9" />
<polygon points="169.20,256.20 169.53,259.38 166.91,258.44" fill="#ffa31f"/>
<line x1="170.80" y1="304.70" x2="189.00" y2="272.50" stroke="#e02020" stroke-width="0.9" />
<polygon points="189.00,272.50 188.79,275.69 186.37,274.32" fill="#e02020"/>
<line x1="175.80" y1="318.60" x2="178.80" y2="314.20" stroke="#3a9264" stroke-width="0.9" />
<polygon points="178.80,314.20 178.33,317.36 176.03,315.80" fill="#3a9264"/>
<line x1="153.60" y1="333.60" x2="160.10" y2="322.70" stroke="#222" stroke-width="0.9" />
<polygon points="160.10,322.70 159.82,325.89 157.43,324.46" fill="#222"/>
<text x="164.90" y="242.20" font-size="8.6" font-weight="bold" text-anchor="start" fill="#111" font-family='"Liberation Sans", sans-serif' textLength="55" lengthAdjust="spacingAndGlyphs" >50 shots, edge</text>
<text x="159.90" y="255.70" font-size="8.6" font-weight="bold" text-anchor="start" fill="#111" font-family='"Liberation Sans", sans-serif' textLength="61" lengthAdjust="spacingAndGlyphs" >50 shots, center</text>
<text x="174.80" y="271.60" font-size="8.6" font-weight="bold" text-anchor="start" fill="#111" font-family='"Liberation Sans", sans-serif' textLength="46.2" lengthAdjust="spacingAndGlyphs" >4 shots, edge</text>
<text x="167.90" y="326.70" font-size="8.6" font-weight="bold" text-anchor="start" fill="#111" font-family='"Liberation Sans", sans-serif' textLength="52.5" lengthAdjust="spacingAndGlyphs" >4 shots, center</text>
<text x="130.30" y="339.20" font-size="8.6" font-weight="bold" text-anchor="start" fill="#111" font-family='"Liberation Sans", sans-serif' textLength="38.6" lengthAdjust="spacingAndGlyphs" >Reference</text>
<text x="5.90" y="26.60" font-size="25.8" font-weight="bold" text-anchor="start" fill="#111" font-family='"Liberation Serif", serif' textLength="30.3" lengthAdjust="spacingAndGlyphs" stroke="#000" stroke-width="0.45">(a)</text>
<text x="233.30" y="27.50" font-size="25.4" font-weight="bold" text-anchor="start" fill="#111" font-family='"Liberation Serif", serif' textLength="31.6" lengthAdjust="spacingAndGlyphs" stroke="#000" stroke-width="0.45">(b)</text>
<text x="8.10" y="203.70" font-size="25.8" font-weight="bold" text-anchor="start" fill="#111" font-family='"Liberation Serif", serif' textLength="28.9" lengthAdjust="spacingAndGlyphs" stroke="#000" stroke-width="0.45">(c)</text>
<text x="231.60" y="198.20" font-size="26.0" font-weight="bold" text-anchor="start" fill="#111" font-family='"Liberation Serif", serif' textLength="31.8" lengthAdjust="spacingAndGlyphs" stroke="#000" stroke-width="0.45">(d)</text>
</svg>
</body></html>
